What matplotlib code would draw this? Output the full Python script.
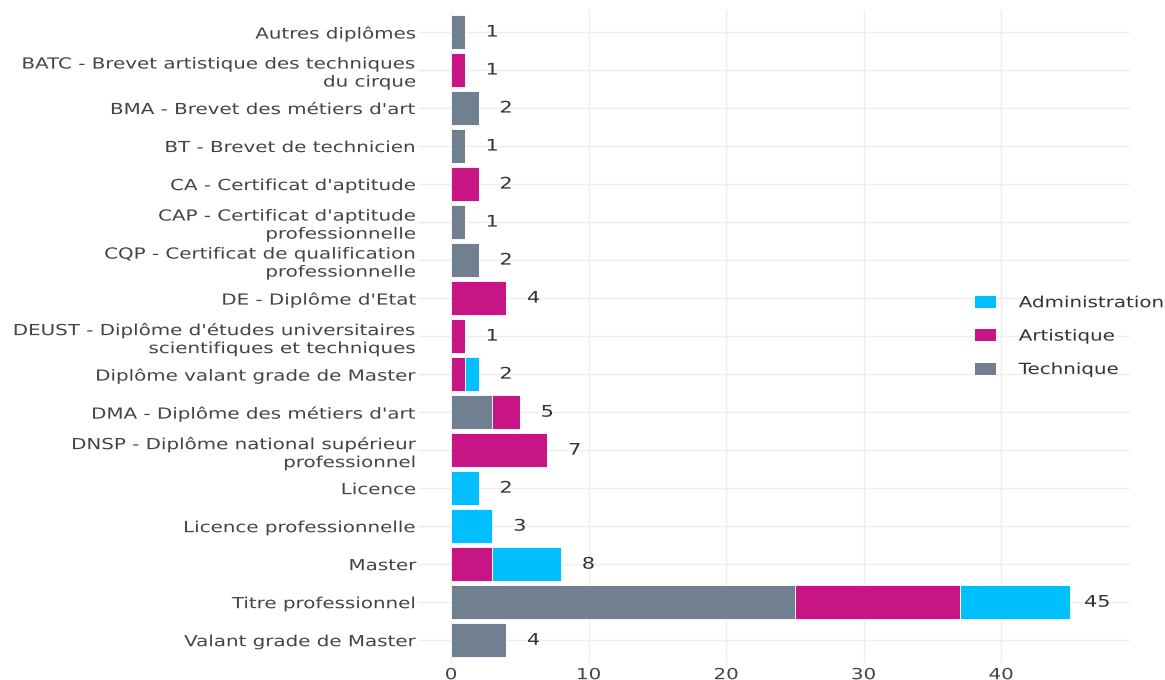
import matplotlib
matplotlib.use("Agg")
import matplotlib.pyplot as plt
from matplotlib.patheffects import AbstractPathEffect
from matplotlib.transforms import Affine2D, offset_copy
import numpy as np

categories = [
    "Autres diplômes",
    "BATC - Brevet artistique des techniques\ndu cirque",
    "BMA - Brevet des métiers d'art",
    "BT - Brevet de technicien",
    "CA - Certificat d'aptitude",
    "CAP - Certificat d'aptitude\nprofessionnelle",
    "CQP - Certificat de qualification\nprofessionnelle",
    "DE - Diplôme d'Etat",
    "DEUST - Diplôme d'études universitaires\nscientifiques et techniques",
    "Diplôme valant grade de Master",
    "DMA - Diplôme des métiers d'art",
    "DNSP - Diplôme national supérieur\nprofessionnel",
    "Licence",
    "Licence professionnelle",
    "Master",
    "Titre professionnel",
    "Valant grade de Master",
]
technique      = [1, 0, 2, 1, 0, 1, 2, 0, 0, 0, 3, 0, 0, 0, 0, 25, 4]
artistique     = [0, 1, 0, 0, 2, 0, 0, 4, 1, 1, 2, 7, 0, 0, 3, 12, 0]
administration = [0, 0, 0, 0, 0, 0, 0, 0, 0, 1, 0, 0, 2, 3, 5, 8, 0]
x_ticks = [0, 10, 20, 30, 40]

colors = {"Administration": "#00BFFF", "Artistique": "#C71585", "Technique": "#708090"}
SX = 1.3  # horizontal stretch of text (wide Verdana-like look)


class Stretch(AbstractPathEffect):
    """Stretch a text horizontally around its own anchor point."""
    def __init__(self, text, sx):
        super().__init__()
        self.text = text
        self.sx = sx

    def draw_path(self, renderer, gc, tpath, affine, rgbFace=None):
        x0, _ = self.text.get_transform().transform(self.text.get_unitless_position())
        aff = affine + Affine2D().translate(-x0, 0).scale(self.sx, 1).translate(x0, 0)
        renderer.draw_path(gc, tpath, aff, rgbFace)


def stretch(t, sx=SX):
    t.set_path_effects([Stretch(t, sx)])


plt.rcParams['font.family'] = ['DejaVu Sans']
W, H = 1165, 680
fig = plt.figure(figsize=(W / 100, H / 100), dpi=100)
ax_l, ax_r, ax_t, ax_b = 418, 1130, 10, 663
ax = fig.add_axes([ax_l / W, 1 - ax_b / H, (ax_r - ax_l) / W, (ax_b - ax_t) / H])

n = len(categories)
y = np.arange(n)
tech = np.array(technique)
art = np.array(artistique)
adm = np.array(administration)
h = 0.895
kw = dict(height=h, edgecolor='#ffffff', linewidth=0.6, zorder=3)
ax.barh(y, tech, color=colors["Technique"], label="Technique", **kw)
ax.barh(y, art, left=tech, color=colors["Artistique"], label="Artistique", **kw)
ax.barh(y, adm, left=tech + art, color=colors["Administration"], label="Administration", **kw)

px_per_unit = 13.75
x0px = 451
ax.set_xlim((ax_l - x0px) / px_per_unit, (ax_r - x0px) / px_per_unit)
ax.set_ylim(16.6, -0.58)

totals = tech + art + adm
off = offset_copy(ax.transData, fig=fig, x=27.5, y=0, units='dots')
for yi, t in zip(y, totals):
    tx = ax.text(t, yi, str(t), transform=off, ha='center', va='center',
                 fontsize=11.5, color='#333333')
    stretch(tx)

ax.set_yticks(y)
ax.set_yticklabels(categories, fontsize=11, color='#444444', linespacing=1.25)
ax.set_xticks(x_ticks)
ax.set_xticklabels([str(v) for v in x_ticks], fontsize=11, color='#444444')
ax.tick_params(axis='both', length=0)
ax.tick_params(axis='y', pad=1)
ax.tick_params(axis='x', pad=3)
for lbl in ax.get_yticklabels() + ax.get_xticklabels():
    stretch(lbl)
ax.grid(True, color='#EEEEEE', linewidth=1, zorder=0)
ax.set_axisbelow(True)
for s in ax.spines.values():
    s.set_visible(False)

handles, labels = ax.get_legend_handles_labels()
order = [2, 1, 0]
leg = fig.legend([handles[i] for i in order], [labels[i] for i in order],
                 loc='upper left', bbox_to_anchor=(963 / W, 1 - 283 / H),
                 frameon=False, fontsize=11, handlelength=1.35, handleheight=0.85,
                 labelspacing=1.2, handletextpad=1.5, borderpad=0.3,
                 labelcolor='#333333')
for t in leg.get_texts():
    stretch(t)
for p in leg.get_patches():
    p.set_edgecolor('none')

fig.savefig("out.png", dpi=100)
